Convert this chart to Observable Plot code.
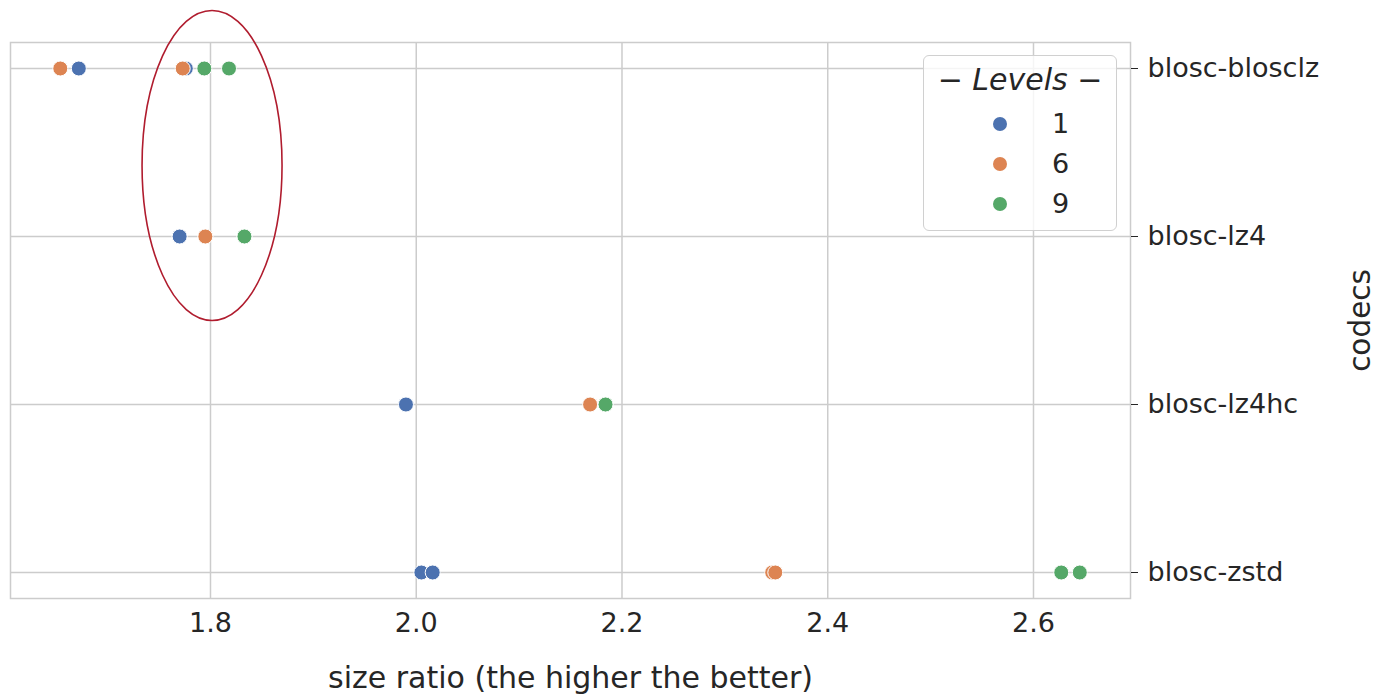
<!DOCTYPE html>
<html>
<head>
<meta charset="utf-8">
<script src="https://cdn.jsdelivr.net/npm/d3@7"></script>
<script src="https://cdn.jsdelivr.net/npm/@observablehq/plot@0.6"></script>
<style>
  html, body { margin: 0; padding: 0; background: #fff; }
  #wrap { position: relative; width: 1376px; height: 694px; font-family: "DejaVu Sans", sans-serif; color: #262626; }
  #legend { position: absolute; left: 923px; top: 55px; width: 192px; height: 174px;
    border: 1.5px solid #d0d0d0; border-radius: 6px; background: rgba(255,255,255,0.8); box-sizing: content-box; }
  #legend .title { position: absolute; left: 0; right: 0; top: 6px; text-align: center; font-style: italic; font-size: 30px; white-space: pre; }
  #legend .row { position: absolute; left: 0; width: 192px; height: 30px; }
  #legend .sw { position: absolute; left: 69px; top: 8px; width: 14px; height: 14px; border-radius: 50%; }
  #legend .lab { position: absolute; left: 128px; top: -2px; font-size: 27px; line-height: 34px; }
</style>
</head>
<body>
<div id="wrap"></div>
<script>
// ---- data ----
const codecs = ["blosc-blosclz", "blosc-lz4", "blosc-lz4hc", "blosc-zstd"];
const levels = ["1", "6", "9"];
const levelColors = ["#4C72B0", "#DD8452", "#55A868"];
const pointCodecs = ["blosc-blosclz", "blosc-blosclz", "blosc-lz4", "blosc-lz4", "blosc-lz4hc", "blosc-lz4hc", "blosc-zstd", "blosc-zstd"];
const ratiosLevel1 = [1.672, 1.776, 1.770, 1.770, 1.990, 1.990, 2.005, 2.016];
const ratiosLevel6 = [1.654, 1.773, 1.795, 1.795, 2.169, 2.169, 2.346, 2.349];
const ratiosLevel9 = [1.794, 1.818, 1.833, 1.833, 2.184, 2.184, 2.627, 2.645];
const xTicks = [1.8, 2.0, 2.2, 2.4, 2.6];
const xLabel = "size ratio (the higher the better)";
const yLabel = "codecs";
const legendTitle = "− Levels −";
// annotation ellipse: centred at ratio 1.802, between the first two codecs
const ellipseX = 1.802;
const ellipseBetween = ["blosc-blosclz", "blosc-lz4"];
const ellipseFrac = 0.58;

const rows = [];
[ratiosLevel1, ratiosLevel6, ratiosLevel9].forEach((arr, li) => {
  arr.forEach((v, i) => rows.push({codec: pointCodecs[i], ratio: v, level: levels[li]}));
});

const grid = "#cccccc";
const chart = Plot.plot({
  width: 1376,
  height: 694,
  marginLeft: 10,
  marginRight: 246,
  marginTop: 42,
  marginBottom: 96,
  style: {fontFamily: "DejaVu Sans, sans-serif", color: "#262626", background: "transparent", overflow: "visible"},
  x: {domain: [1.6056, 2.6943]},
  y: {type: "point", domain: codecs, padding: 0.152},
  color: {domain: levels, range: levelColors},
  marks: [
    Plot.gridX(xTicks, {stroke: grid, strokeOpacity: 1, strokeWidth: 1.5}),
    Plot.gridY(codecs, {stroke: grid, strokeOpacity: 1, strokeWidth: 1.5}),
    Plot.frame({stroke: grid, strokeWidth: 1.5}),
    Plot.axisX(xTicks, {tickSize: 0, tickPadding: 14, fontSize: 27, tickFormat: d3.format(".1f"), label: null}),
    Plot.axisY({anchor: "right", tickSize: 7, tickPadding: 10, fontSize: 27, label: null, stroke: "#262626"}),
    Plot.text([xLabel], {frameAnchor: "bottom", textAnchor: "middle", dy: 89, fontSize: 30, text: d => d, fill: "#262626"}),
    Plot.text([yLabel], {frameAnchor: "right", textAnchor: "middle", dx: 230, rotate: -90, fontSize: 29.5, text: d => d, fill: "#262626"}),
    Plot.dot(rows, {x: "ratio", y: "codec", fill: "level", r: 7.5, stroke: "white", strokeWidth: 1})
  ]
});

const wrap = document.getElementById("wrap");
wrap.appendChild(chart);

// red annotation ellipse placed through the chart's own scales
const xs = chart.scale("x"), ys = chart.scale("y");
const cx = xs.apply(ellipseX);
const y0 = ys.apply(ellipseBetween[0]), y1 = ys.apply(ellipseBetween[1]);
const cy = y0 + ellipseFrac * (y1 - y0);
d3.select(chart).append("ellipse")
  .attr("cx", cx).attr("cy", cy).attr("rx", 70).attr("ry", 155)
  .attr("fill", "none").attr("stroke", "#b01c2e").attr("stroke-width", 1.6);

// legend
const lg = document.createElement("div");
lg.id = "legend";
let html = `<div class="title">${legendTitle}</div>`;
levels.forEach((l, i) => {
  html += `<div class="row" style="top:${53 + i * 40}px"><div class="sw" style="background:${levelColors[i]}"></div><div class="lab">${l}</div></div>`;
});
lg.innerHTML = html;
wrap.appendChild(lg);
</script>
</body>
</html>
